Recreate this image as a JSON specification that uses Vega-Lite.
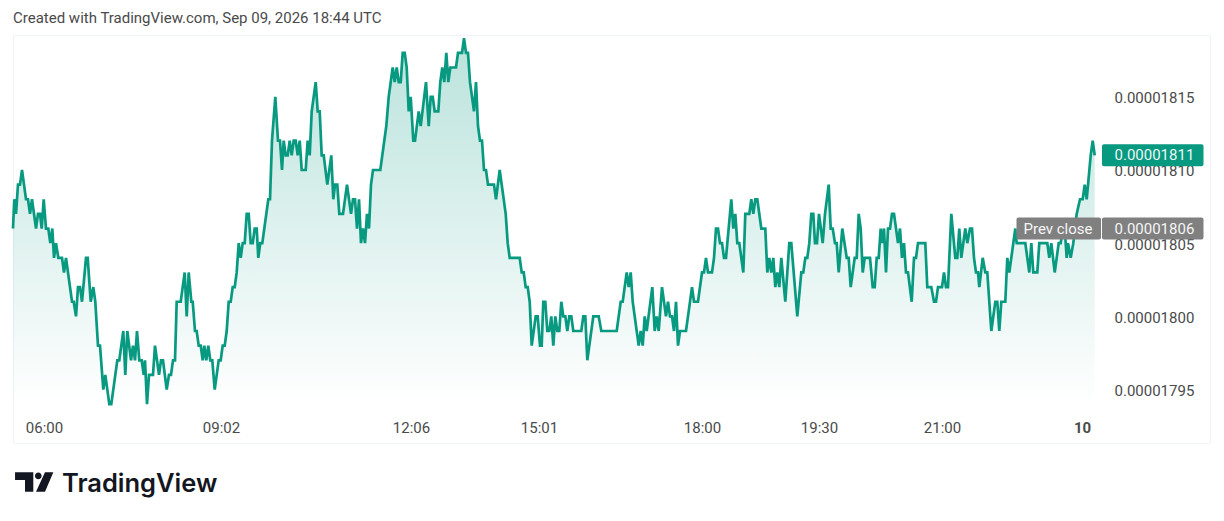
{"$schema":"https://vega.github.io/schema/vega-lite/v6.json","width":1197,"height":408,"autosize":{"type":"none"},"padding":{"left":13,"top":35,"right":14,"bottom":78},"background":"#ffffff","view":{"stroke":"#f0f3fa","strokeWidth":1},"title":{"text":"Created with TradingView.com, Sep 09, 2026 18:44 UTC","anchor":"start","frame":"group","offset":7,"font":"Roboto","fontSize":15,"fontWeight":400,"color":"#4a4a4a"},"config":{"font":"Roboto","text":{"font":"Roboto"}},"datasets":{"prices":[{"bar":13,"price":0.00001806},{"bar":14.3,"price":0.00001808},{"bar":16,"price":0.00001807},{"bar":18,"price":0.00001809},{"bar":20,"price":0.00001809},{"bar":22,"price":0.0000181},{"bar":26,"price":0.00001808},{"bar":28,"price":0.00001808},{"bar":30,"price":0.00001807},{"bar":32,"price":0.00001808},{"bar":36,"price":0.00001806},{"bar":38,"price":0.00001807},{"bar":40,"price":0.00001807},{"bar":41.7,"price":0.00001806},{"bar":43.7,"price":0.00001808},{"bar":46,"price":0.00001806},{"bar":48.3,"price":0.00001806},{"bar":50.3,"price":0.00001805},{"bar":52.3,"price":0.00001806},{"bar":54,"price":0.00001804},{"bar":56,"price":0.00001805},{"bar":58.3,"price":0.00001804},{"bar":62,"price":0.00001804},{"bar":64,"price":0.00001803},{"bar":66,"price":0.00001804},{"bar":68,"price":0.00001803},{"bar":72,"price":0.00001801},{"bar":73.7,"price":0.00001801},{"bar":76,"price":0.000018},{"bar":78,"price":0.00001802},{"bar":80,"price":0.00001802},{"bar":82,"price":0.00001801},{"bar":86,"price":0.00001804},{"bar":87.7,"price":0.00001804},{"bar":90.7,"price":0.00001801},{"bar":93.3,"price":0.00001802},{"bar":95.3,"price":0.00001801},{"bar":98,"price":0.00001798},{"bar":100,"price":0.00001798},{"bar":103.3,"price":0.00001795},{"bar":105.3,"price":0.00001796},{"bar":109.3,"price":0.00001794},{"bar":111.3,"price":0.00001794},{"bar":117.3,"price":0.00001797},{"bar":119.3,"price":0.00001797},{"bar":123.3,"price":0.00001799},{"bar":125.3,"price":0.00001796},{"bar":127.3,"price":0.00001799},{"bar":131,"price":0.00001797},{"bar":133,"price":0.00001798},{"bar":135,"price":0.00001797},{"bar":137,"price":0.00001799},{"bar":139.3,"price":0.00001797},{"bar":141.7,"price":0.00001797},{"bar":143.7,"price":0.00001796},{"bar":145,"price":0.00001797},{"bar":147,"price":0.00001794},{"bar":149,"price":0.00001796},{"bar":153,"price":0.00001796},{"bar":155,"price":0.00001798},{"bar":159,"price":0.00001796},{"bar":161,"price":0.00001797},{"bar":163,"price":0.00001797},{"bar":166.7,"price":0.00001795},{"bar":169,"price":0.00001796},{"bar":171,"price":0.00001796},{"bar":173,"price":0.00001797},{"bar":175,"price":0.00001797},{"bar":176.7,"price":0.00001801},{"bar":180.7,"price":0.00001801},{"bar":184.7,"price":0.00001803},{"bar":186.7,"price":0.000018},{"bar":188.7,"price":0.00001803},{"bar":191.3,"price":0.00001801},{"bar":192.7,"price":0.00001801},{"bar":195,"price":0.00001799},{"bar":196.7,"price":0.00001799},{"bar":198.7,"price":0.00001798},{"bar":200.7,"price":0.00001798},{"bar":202.7,"price":0.00001797},{"bar":204.3,"price":0.00001798},{"bar":206.3,"price":0.00001797},{"bar":208.3,"price":0.00001798},{"bar":210.3,"price":0.00001797},{"bar":212.3,"price":0.00001797},{"bar":214.7,"price":0.00001795},{"bar":218.7,"price":0.00001797},{"bar":220.7,"price":0.00001797},{"bar":222.7,"price":0.00001798},{"bar":224.7,"price":0.00001798},{"bar":226.7,"price":0.00001799},{"bar":228.7,"price":0.00001801},{"bar":230.7,"price":0.00001801},{"bar":232.7,"price":0.00001802},{"bar":234.7,"price":0.00001802},{"bar":236.7,"price":0.00001803},{"bar":238.7,"price":0.00001805},{"bar":240.7,"price":0.00001804},{"bar":242.7,"price":0.00001805},{"bar":244.7,"price":0.00001805},{"bar":246.7,"price":0.00001807},{"bar":248.7,"price":0.00001807},{"bar":250.7,"price":0.00001805},{"bar":252.7,"price":0.00001805},{"bar":254.7,"price":0.00001806},{"bar":256.7,"price":0.00001806},{"bar":258.3,"price":0.00001804},{"bar":260.3,"price":0.00001805},{"bar":262.3,"price":0.00001805},{"bar":268.3,"price":0.00001808},{"bar":270,"price":0.00001808},{"bar":272,"price":0.00001812},{"bar":275.3,"price":0.00001815},{"bar":278,"price":0.00001812},{"bar":280,"price":0.00001812},{"bar":282,"price":0.0000181},{"bar":283.7,"price":0.00001812},{"bar":285.7,"price":0.00001811},{"bar":287.7,"price":0.00001811},{"bar":289.7,"price":0.00001812},{"bar":291.7,"price":0.00001811},{"bar":293.7,"price":0.00001812},{"bar":295.7,"price":0.00001812},{"bar":297.7,"price":0.00001811},{"bar":299.7,"price":0.00001812},{"bar":301.7,"price":0.0000181},{"bar":305.7,"price":0.0000181},{"bar":307.7,"price":0.00001812},{"bar":309.7,"price":0.00001811},{"bar":311.7,"price":0.00001814},{"bar":315.7,"price":0.00001816},{"bar":317.7,"price":0.00001814},{"bar":319.7,"price":0.00001814},{"bar":321.7,"price":0.00001811},{"bar":323.7,"price":0.00001811},{"bar":327.3,"price":0.00001809},{"bar":331.3,"price":0.00001811},{"bar":333.3,"price":0.00001808},{"bar":335,"price":0.00001809},{"bar":337.3,"price":0.00001809},{"bar":339.3,"price":0.00001807},{"bar":343,"price":0.00001807},{"bar":347,"price":0.00001809},{"bar":351,"price":0.00001807},{"bar":353,"price":0.00001808},{"bar":355,"price":0.00001808},{"bar":357,"price":0.00001806},{"bar":359,"price":0.00001808},{"bar":361,"price":0.00001805},{"bar":363,"price":0.00001806},{"bar":365,"price":0.00001805},{"bar":367,"price":0.00001807},{"bar":369,"price":0.00001806},{"bar":371,"price":0.00001809},{"bar":373,"price":0.0000181},{"bar":380.3,"price":0.0000181},{"bar":386.3,"price":0.00001813},{"bar":388.7,"price":0.00001815},{"bar":392.7,"price":0.00001817},{"bar":394.7,"price":0.00001816},{"bar":396.7,"price":0.00001817},{"bar":398.7,"price":0.00001816},{"bar":400.7,"price":0.00001816},{"bar":402.7,"price":0.00001818},{"bar":404.7,"price":0.00001818},{"bar":406.7,"price":0.00001817},{"bar":408.7,"price":0.00001814},{"bar":410.7,"price":0.00001815},{"bar":413.3,"price":0.00001812},{"bar":415,"price":0.00001812},{"bar":418.7,"price":0.00001814},{"bar":420.7,"price":0.00001813},{"bar":426,"price":0.00001816},{"bar":428.7,"price":0.00001813},{"bar":430.7,"price":0.00001815},{"bar":432.7,"price":0.00001815},{"bar":434.7,"price":0.00001814},{"bar":438.3,"price":0.00001814},{"bar":440.3,"price":0.00001816},{"bar":442.3,"price":0.00001817},{"bar":444.3,"price":0.00001816},{"bar":446.3,"price":0.00001818},{"bar":448.3,"price":0.00001816},{"bar":450.3,"price":0.00001817},{"bar":456,"price":0.00001817},{"bar":458,"price":0.00001818},{"bar":462,"price":0.00001818},{"bar":464,"price":0.00001819},{"bar":466,"price":0.00001818},{"bar":468,"price":0.00001818},{"bar":470,"price":0.00001816},{"bar":474,"price":0.00001814},{"bar":476,"price":0.00001816},{"bar":478,"price":0.00001813},{"bar":480,"price":0.00001812},{"bar":482,"price":0.00001812},{"bar":484,"price":0.0000181},{"bar":486,"price":0.0000181},{"bar":488,"price":0.00001809},{"bar":494,"price":0.00001809},{"bar":496,"price":0.00001808},{"bar":499.7,"price":0.0000181},{"bar":505.7,"price":0.00001807},{"bar":507.7,"price":0.00001805},{"bar":509.7,"price":0.00001804},{"bar":519.7,"price":0.00001804},{"bar":521.7,"price":0.00001803},{"bar":523.7,"price":0.00001803},{"bar":525.7,"price":0.00001802},{"bar":527.7,"price":0.00001802},{"bar":529.7,"price":0.00001801},{"bar":531.7,"price":0.00001798},{"bar":535.7,"price":0.000018},{"bar":537.7,"price":0.000018},{"bar":540,"price":0.00001798},{"bar":541.7,"price":0.00001798},{"bar":543.3,"price":0.00001801},{"bar":545.3,"price":0.00001801},{"bar":547.3,"price":0.00001799},{"bar":549.3,"price":0.00001799},{"bar":551.3,"price":0.000018},{"bar":553.3,"price":0.00001798},{"bar":555.3,"price":0.000018},{"bar":557.3,"price":0.00001799},{"bar":559.3,"price":0.00001799},{"bar":561.3,"price":0.00001801},{"bar":563.3,"price":0.000018},{"bar":565.3,"price":0.000018},{"bar":567.3,"price":0.00001799},{"bar":569.3,"price":0.000018},{"bar":571.3,"price":0.000018},{"bar":573.3,"price":0.00001799},{"bar":581.3,"price":0.00001799},{"bar":583.3,"price":0.000018},{"bar":585.3,"price":0.000018},{"bar":587.3,"price":0.00001797},{"bar":593.3,"price":0.000018},{"bar":598.7,"price":0.000018},{"bar":601.3,"price":0.00001799},{"bar":616.7,"price":0.00001799},{"bar":620.7,"price":0.00001801},{"bar":622.7,"price":0.00001801},{"bar":626.7,"price":0.00001803},{"bar":628.7,"price":0.00001802},{"bar":630.7,"price":0.00001803},{"bar":632.7,"price":0.00001801},{"bar":638.7,"price":0.00001798},{"bar":640.7,"price":0.00001799},{"bar":642.7,"price":0.00001798},{"bar":644.7,"price":0.000018},{"bar":646.7,"price":0.00001799},{"bar":652.3,"price":0.00001802},{"bar":654.7,"price":0.00001799},{"bar":656.7,"price":0.000018},{"bar":658.7,"price":0.00001799},{"bar":662,"price":0.00001802},{"bar":666,"price":0.000018},{"bar":668,"price":0.00001801},{"bar":670,"price":0.000018},{"bar":672,"price":0.000018},{"bar":674,"price":0.00001799},{"bar":676,"price":0.00001801},{"bar":678,"price":0.00001798},{"bar":680,"price":0.00001799},{"bar":686,"price":0.00001799},{"bar":692,"price":0.00001802},{"bar":694,"price":0.00001801},{"bar":698,"price":0.00001801},{"bar":702,"price":0.00001803},{"bar":704,"price":0.00001803},{"bar":706,"price":0.00001804},{"bar":708,"price":0.00001803},{"bar":712,"price":0.00001803},{"bar":714,"price":0.00001804},{"bar":716,"price":0.00001806},{"bar":718,"price":0.00001806},{"bar":720,"price":0.00001805},{"bar":722,"price":0.00001805},{"bar":724,"price":0.00001804},{"bar":726,"price":0.00001804},{"bar":731.3,"price":0.00001808},{"bar":733.3,"price":0.00001806},{"bar":735.3,"price":0.00001807},{"bar":737.3,"price":0.00001805},{"bar":739.3,"price":0.00001805},{"bar":743.3,"price":0.00001803},{"bar":745.3,"price":0.00001807},{"bar":749.3,"price":0.00001807},{"bar":751.3,"price":0.00001808},{"bar":753.3,"price":0.00001807},{"bar":755.3,"price":0.00001808},{"bar":757.3,"price":0.00001808},{"bar":761.3,"price":0.00001806},{"bar":765.3,"price":0.00001806},{"bar":767.3,"price":0.00001803},{"bar":769.3,"price":0.00001804},{"bar":771.3,"price":0.00001803},{"bar":773.3,"price":0.00001804},{"bar":775.3,"price":0.00001802},{"bar":777.3,"price":0.00001803},{"bar":779.3,"price":0.00001802},{"bar":781.3,"price":0.00001804},{"bar":785.3,"price":0.00001801},{"bar":789.3,"price":0.00001805},{"bar":791.3,"price":0.00001805},{"bar":797.3,"price":0.000018},{"bar":801.3,"price":0.00001803},{"bar":803.3,"price":0.00001803},{"bar":805.3,"price":0.00001804},{"bar":807.3,"price":0.00001804},{"bar":809.3,"price":0.00001805},{"bar":811.3,"price":0.00001807},{"bar":813.3,"price":0.00001807},{"bar":815,"price":0.00001805},{"bar":817,"price":0.00001805},{"bar":819,"price":0.00001807},{"bar":822.7,"price":0.00001805},{"bar":825,"price":0.00001807},{"bar":828.7,"price":0.00001809},{"bar":830.7,"price":0.00001806},{"bar":832.7,"price":0.00001806},{"bar":835,"price":0.00001805},{"bar":836.7,"price":0.00001805},{"bar":838.7,"price":0.00001803},{"bar":842.3,"price":0.00001806},{"bar":846.7,"price":0.00001804},{"bar":848.7,"price":0.00001804},{"bar":850.7,"price":0.00001802},{"bar":854.7,"price":0.00001804},{"bar":856.7,"price":0.00001804},{"bar":858.7,"price":0.00001807},{"bar":860.7,"price":0.00001806},{"bar":862.7,"price":0.00001803},{"bar":864.7,"price":0.00001804},{"bar":870,"price":0.00001804},{"bar":872.7,"price":0.00001802},{"bar":874.7,"price":0.00001802},{"bar":876.7,"price":0.00001804},{"bar":878.7,"price":0.00001804},{"bar":880.7,"price":0.00001806},{"bar":882,"price":0.00001805},{"bar":884,"price":0.00001806},{"bar":886,"price":0.00001803},{"bar":888,"price":0.00001806},{"bar":890,"price":0.00001806},{"bar":892,"price":0.00001807},{"bar":894,"price":0.00001807},{"bar":898,"price":0.00001805},{"bar":900,"price":0.00001806},{"bar":902,"price":0.00001804},{"bar":904,"price":0.00001805},{"bar":906,"price":0.00001803},{"bar":908,"price":0.00001803},{"bar":911.7,"price":0.00001801},{"bar":914,"price":0.00001804},{"bar":916,"price":0.00001804},{"bar":918,"price":0.00001805},{"bar":925.3,"price":0.00001805},{"bar":927.3,"price":0.00001802},{"bar":931.3,"price":0.00001802},{"bar":934,"price":0.00001801},{"bar":936,"price":0.00001801},{"bar":938,"price":0.00001802},{"bar":942,"price":0.00001802},{"bar":944,"price":0.00001803},{"bar":946,"price":0.00001802},{"bar":948,"price":0.00001802},{"bar":951.3,"price":0.00001807},{"bar":955.3,"price":0.00001804},{"bar":957.3,"price":0.00001804},{"bar":959.3,"price":0.00001806},{"bar":961.3,"price":0.00001804},{"bar":963.3,"price":0.00001805},{"bar":965.3,"price":0.00001806},{"bar":967.3,"price":0.00001805},{"bar":970,"price":0.00001806},{"bar":972,"price":0.00001806},{"bar":974,"price":0.00001804},{"bar":976,"price":0.00001803},{"bar":978,"price":0.00001803},{"bar":979.3,"price":0.00001802},{"bar":982.7,"price":0.00001804},{"bar":985.3,"price":0.00001803},{"bar":987.3,"price":0.00001803},{"bar":991.3,"price":0.00001799},{"bar":995.3,"price":0.00001801},{"bar":997.3,"price":0.00001801},{"bar":999.3,"price":0.00001799},{"bar":1001.3,"price":0.00001801},{"bar":1005.3,"price":0.00001801},{"bar":1007.3,"price":0.00001804},{"bar":1009.3,"price":0.00001803},{"bar":1013.3,"price":0.00001805},{"bar":1015.3,"price":0.00001806},{"bar":1016.7,"price":0.00001805},{"bar":1021.3,"price":0.00001805},{"bar":1025.3,"price":0.00001805},{"bar":1027.3,"price":0.00001804},{"bar":1029.3,"price":0.00001803},{"bar":1031.3,"price":0.00001805},{"bar":1033.3,"price":0.00001803},{"bar":1037.3,"price":0.00001803},{"bar":1039.3,"price":0.00001805},{"bar":1047.3,"price":0.00001805},{"bar":1049.3,"price":0.00001804},{"bar":1051.3,"price":0.00001805},{"bar":1054.7,"price":0.00001803},{"bar":1058.7,"price":0.00001805},{"bar":1060.7,"price":0.00001805},{"bar":1062.7,"price":0.00001806},{"bar":1064.7,"price":0.00001806},{"bar":1066.7,"price":0.00001804},{"bar":1068,"price":0.00001805},{"bar":1070.7,"price":0.00001804},{"bar":1073.3,"price":0.00001805},{"bar":1076.7,"price":0.00001807},{"bar":1080,"price":0.00001808},{"bar":1082.7,"price":0.00001808},{"bar":1084.7,"price":0.00001809},{"bar":1086.7,"price":0.00001808},{"bar":1090.7,"price":0.00001811},{"bar":1092.7,"price":0.00001812},{"bar":1094.7,"price":0.00001811}]},"layer":[{"mark":{"type":"rule","stroke":"#a6a6a6","strokeWidth":1,"strokeDash":[1,4]},"encoding":{"y":{"datum":0.00001806,"type":"quantitative","scale":{"domain":[0.0000179135,0.0000181922],"nice":false,"zero":false},"axis":{"orient":"right","offset":-96,"values":[0.00001795,0.000018,0.00001805,0.0000181,0.00001815],"format":".8f","title":null,"grid":false,"domain":false,"ticks":false,"labelPadding":0,"labelOffset":1,"labelFont":"Roboto","labelFontSize":15,"labelColor":"#4a4a4a"}}}},{"data":{"name":"prices"},"mark":{"type":"area","line":false,"interpolate":"linear","color":{"gradient":"linear","x1":0,"y1":0,"x2":0,"y2":1,"stops":[{"offset":0,"color":"rgba(8,153,129,0.28)"},{"offset":1,"color":"rgba(8,153,129,0.0)"}]}},"encoding":{"x":{"field":"bar","type":"quantitative","scale":{"domain":[13,1210],"nice":false,"zero":false},"axis":{"orient":"bottom","offset":-29,"values":[44,221,411,539,702,819,942,1082],"labelExpr":"{'44':'06:00','221':'09:02','411':'12:06','539':'15:01','702':'18:00','819':'19:30','942':'21:00','1082':'10'}[datum.value]","title":null,"grid":false,"domain":false,"ticks":false,"labelPadding":6,"labelFont":"Roboto","labelFontSize":15,"labelColor":"#4a4a4a","labelFontWeight":{"condition":{"test":"datum.value==1082","value":700},"value":400}}},"y":{"field":"price","type":"quantitative"},"y2":{"datum":0.00001794}}},{"data":{"name":"prices"},"mark":{"type":"line","interpolate":"linear","stroke":"#089981","strokeWidth":2.7,"strokeJoin":"miter"},"encoding":{"x":{"field":"bar","type":"quantitative"},"y":{"field":"price","type":"quantitative"}}},{"data":{"values":[{"from":1016.5,"to":1101,"low":0.0000180525,"high":0.0000180675},{"from":1102,"to":1203.5,"low":0.0000180525,"high":0.0000180675}]},"mark":{"type":"rect","fill":"#808080","cornerRadius":2},"encoding":{"x":{"field":"from","type":"quantitative"},"x2":{"field":"to"},"y":{"field":"low","type":"quantitative"},"y2":{"field":"high"}}},{"data":{"values":[{"from":1102,"to":1203.5,"low":0.0000181025,"high":0.0000181175}]},"mark":{"type":"rect","fill":"#089981","cornerRadius":2},"encoding":{"x":{"field":"from","type":"quantitative"},"x2":{"field":"to"},"y":{"field":"low","type":"quantitative"},"y2":{"field":"high"}}},{"data":{"values":[{"at":1114.5,"price":0.00001811,"label":"0.00001811"},{"at":1114.5,"price":0.00001806,"label":"0.00001806"},{"at":1023.5,"price":0.00001806,"label":"Prev close"}]},"mark":{"type":"text","align":"left","baseline":"middle","font":"Roboto","fontSize":15,"fill":"#ffffff","opacity":0.92},"encoding":{"x":{"field":"at","type":"quantitative"},"y":{"field":"price","type":"quantitative"},"text":{"field":"label"}}},{"data":{"values":[{"at":34.2,"price":0.0000178869}]},"mark":{"type":"point","filled":true,"fill":"#131722","stroke":null,"opacity":1,"size":1467,"shape":"M-1 -.507H-.047V.507H-.48V-.104H-1Z M.04 -.313A.174 .174 0 1 0 .388 -.313A.174 .174 0 1 0 .04 -.313Z M.564 -.507H1L.564 .507H.094Z"},"encoding":{"x":{"field":"at","type":"quantitative"},"y":{"field":"price","type":"quantitative"}}},{"data":{"values":[{"at":62,"price":0.0000178855,"label":"TradingView"}]},"mark":{"type":"text","align":"left","baseline":"middle","font":"Inter","fontSize":25.5,"fontWeight":600,"fill":"#131722"},"encoding":{"x":{"field":"at","type":"quantitative"},"y":{"field":"price","type":"quantitative"},"text":{"field":"label"}}}]}
